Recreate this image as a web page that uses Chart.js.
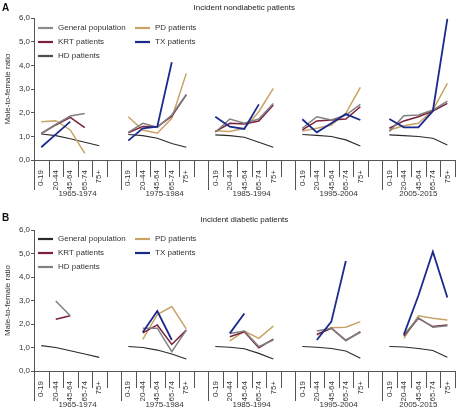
<!DOCTYPE html>
<html>
<head>
<meta charset="utf-8">
<script src="https://cdn.jsdelivr.net/npm/chart.js@4.4.0/dist/chart.umd.min.js"></script>
<style>
  body { margin: 0; background: #fff; }
  canvas { display: block; }
</style>
</head>
<body>
<canvas id="chartA" width="459" height="205"></canvas>
<canvas id="chartB" width="459" height="205"></canvas>
<script>
// categories
const ageGroups = ['0-19', '20-44', '45-64', '65-74', '75+'];
const periods = ['1965-1974', '1975-1984', '1985-1994', '1995-2004', '2005-2015'];
const yTicks = [0, 1, 2, 3, 4, 5, 6];

// Panel A - incident nondiabetic patients (one inner array per period)
const ndGeneral = [[1.1, 1.03, 0.9, 0.75, 0.6], [1.08, 1.03, 0.92, 0.7, 0.54], [1.06, 1.03, 0.96, 0.75, 0.54], [1.08, 1.04, 0.99, 0.85, 0.59], [1.06, 1.03, 0.99, 0.92, 0.63]];
const ndKrt = [[1.12, 1.48, 1.8, 1.37, null], [1.15, 1.42, 1.4, 1.85, 2.75], [1.2, 1.55, 1.52, 1.65, 2.32], [1.27, 1.65, 1.69, 1.73, 2.25], [1.34, 1.65, 1.83, 2.07, 2.39]];
const ndHd = [[1.12, 1.5, 1.86, 1.96, null], [1.17, 1.55, 1.38, 1.9, 2.77], [1.17, 1.73, 1.55, 1.73, 2.39], [1.34, 1.83, 1.69, 1.9, 2.35], [1.2, 1.87, 1.9, 2.11, 2.49]];
const ndPd = [[1.62, 1.66, 1.27, 0.28, null], [1.83, 1.27, 1.13, 1.76, 3.66], [1.24, 1.2, 1.34, 2.04, 3.03], [1.23, 1.34, 1.48, 1.97, 3.07], [1.27, 1.45, 1.55, 2.11, 3.24]];
const ndTx = [[0.54, 1.08, 1.62, null, null], [0.82, 1.34, 1.41, 4.13, null], [1.83, 1.41, 1.31, 2.35, null], [1.72, 1.17, 1.55, 1.94, 1.69], [1.73, 1.38, 1.38, 2.07, 5.96]];

// Panel B - incident diabetic patients
const dGeneral = [[1.08, 1.0, 0.86, 0.72, 0.58], [1.04, 1.0, 0.89, 0.72, 0.51], [1.04, 1.01, 0.95, 0.75, 0.51], [1.04, 1.01, 0.96, 0.85, 0.54], [1.04, 1.02, 0.96, 0.87, 0.58]];
const dKrt = [[null, 2.2, 2.35, null, null], [null, 1.62, 1.96, 1.13, 1.74], [null, 1.46, 1.67, 0.99, 1.36], [null, 1.56, 1.82, 1.29, 1.67], [null, 1.49, 2.24, 1.89, 1.96]];
const dHd = [[null, 2.98, 2.35, null, null], [null, 1.82, 1.82, 0.82, 1.74], [null, 1.6, 1.7, 1.04, 1.32], [null, 1.7, 1.82, 1.32, 1.65], [null, 1.53, 2.27, 1.86, 1.93]];
const dPd = [[null, null, null, null, null], [null, 1.35, 2.4, 2.74, 1.79], [null, 1.28, 1.7, 1.39, 1.91], [null, 1.53, 1.84, 1.86, 2.1], [null, 1.39, 2.35, 2.24, 2.17]];
const dTx = [[null, null, null, null, null], [null, 1.65, 2.55, 1.32, null], [null, 1.6, 2.45, null, null], [null, 1.32, 2.1, 4.68, null], [null, 1.55, 3.2, 5.08, 3.13]];

const FONT = "'Liberation Sans', Arial, Helvetica, sans-serif";
Chart.defaults.font.family = FONT;
Chart.defaults.font.size = 8;
Chart.defaults.color = '#333';

const colors = {
    general: '#2b2b2b',
    krt: '#7b1f3a',
    hd: '#808080',
    pd: '#c9a366',
    tx: '#1b2b8c'
};

// category labels: 5 age groups per period, with an empty slot between periods
let labels = [];
periods.forEach(function (p, i) {
    labels.push(...ageGroups);
    if (i < periods.length - 1) labels.push('');
});

function spread(groups) {
    let out = [];
    groups.forEach(function (g, i) {
        out.push(...g);
        if (i < groups.length - 1) out.push(null);
    });
    return out;
}

// draws panel letter, title, axis separators, period labels and legend
const panelDecor = {
    id: 'panelDecor',
    afterDraw(chart, args, opts) {
        const ctx = chart.ctx;
        const xs = chart.scales.x;
        const area = chart.chartArea;
        ctx.save();

        ctx.fillStyle = '#111';
        ctx.textBaseline = 'middle';
        ctx.textAlign = 'left';
        ctx.font = 'bold 10px ' + FONT;
        ctx.fillText(opts.letter, 2, opts.letterY);
        ctx.font = '8px ' + FONT;
        ctx.fillStyle = '#222';
        ctx.textAlign = 'center';
        ctx.fillText(opts.title, (area.left + area.right) / 2, opts.titleY);

        // separators under the x axis
        const half = (xs.getPixelForValue(1) - xs.getPixelForValue(0)) / 2;
        const n = chart.data.labels.length;
        ctx.strokeStyle = '#555';
        ctx.lineWidth = 1;
        for (let i = 0; i <= n; i++) {
            const px = Math.round(i < n ? xs.getPixelForValue(i) - half : xs.getPixelForValue(n - 1) + half) + 0.5;
            const len = (i % 6 === 0 && i < n) ? 30 : 17;
            ctx.beginPath();
            ctx.moveTo(px, area.bottom);
            ctx.lineTo(px, area.bottom + len);
            ctx.stroke();
        }

        // period labels
        ctx.fillStyle = '#333';
        periods.forEach(function (p, g) {
            const start = xs.getPixelForValue(g * 6) - half;
            const end = g < periods.length - 1 ? xs.getPixelForValue(g * 6 + 6) - half : xs.getPixelForValue(n - 1) + half;
            ctx.fillText(p, (start + end) / 2, area.bottom + 34);
        });

        // legend inside the plot
        ctx.textAlign = 'left';
        opts.legend.forEach(function (item, i) {
            const col = Math.floor(i / 3);
            const row = i % 3;
            const lx = area.left + 4 + col * 97;
            const ly = area.top + opts.legendTop + row * 14;
            ctx.strokeStyle = item.color;
            ctx.lineWidth = 2.2;
            ctx.beginPath();
            ctx.moveTo(lx, ly);
            ctx.lineTo(lx + 15, ly);
            ctx.stroke();
            ctx.fillStyle = '#333';
            ctx.fillText(item.label, lx + 20, ly);
        });
        ctx.restore();
    }
};

function makePanel(canvasId, series, decor, top, xHeight) {
    const datasets = [
        { label: 'TX patients', data: spread(series.tx), borderColor: colors.tx, borderWidth: 1.8 },
        { label: 'HD patients', data: spread(series.hd), borderColor: colors.hd, borderWidth: 1.5 },
        { label: 'KRT patients', data: spread(series.krt), borderColor: colors.krt, borderWidth: 1.5 },
        { label: 'PD patients', data: spread(series.pd), borderColor: colors.pd, borderWidth: 1.5 },
        { label: 'General population', data: spread(series.general), borderColor: colors.general, borderWidth: 1.1 }
    ];
    datasets.forEach(function (d) {
        d.pointRadius = 0;
        d.tension = 0;
        d.fill = false;
        d.spanGaps = false;
    });

    return new Chart(document.getElementById(canvasId), {
        type: 'line',
        data: { labels: labels, datasets: datasets },
        options: {
            responsive: false,
            animation: false,
            layout: { padding: { top: top, right: 2, left: 0, bottom: 0 } },
            plugins: {
                legend: { display: false },
                tooltip: { enabled: false },
                panelDecor: decor
            },
            scales: {
                x: {
                    type: 'category',
                    offset: true,
                    grid: { display: false, offset: true },
                    border: { display: true, color: '#555', width: 1 },
                    ticks: {
                        autoSkip: false,
                        minRotation: 90,
                        maxRotation: 90,
                        padding: 2,
                        color: '#333',
                        font: { size: 8 }
                    },
                    afterFit: function (scale) { scale.height = xHeight; }
                },
                y: {
                    min: yTicks[0],
                    max: yTicks[yTicks.length - 1],
                    grid: { display: true, drawOnChartArea: false, tickLength: 3, color: '#555' },
                    border: { display: true, color: '#555', width: 1 },
                    ticks: {
                        stepSize: 1,
                        padding: 1,
                        color: '#333',
                        callback: function (v) { return v.toFixed(1).replace('.', ','); }
                    },
                    title: {
                        display: true,
                        text: 'Male-to-female ratio',
                        color: '#333',
                        font: { size: 8 },
                        padding: { top: 3, bottom: 0 }
                    },
                    afterFit: function (scale) { scale.width = 34; }
                }
            }
        },
        plugins: [panelDecor]
    });
}

makePanel('chartA',
    { general: ndGeneral, krt: ndKrt, hd: ndHd, pd: ndPd, tx: ndTx },
    {
        letter: 'A', letterY: 8, title: 'Incident nondiabetic patients', titleY: 8, legendTop: 10,
        legend: [
            { label: 'General population', color: '#8c8c8c' },
            { label: 'KRT patients', color: colors.krt },
            { label: 'HD patients', color: '#4d4d4d' },
            { label: 'PD patients', color: colors.pd },
            { label: 'TX patients', color: colors.tx }
        ]
    }, 18, 45);

makePanel('chartB',
    { general: dGeneral, krt: dKrt, hd: dHd, pd: dPd, tx: dTx },
    {
        letter: 'B', letterY: 13, title: 'Incident diabetic patients', titleY: 15, legendTop: 9,
        legend: [
            { label: 'General population', color: colors.general },
            { label: 'KRT patients', color: colors.krt },
            { label: 'HD patients', color: colors.hd },
            { label: 'PD patients', color: colors.pd },
            { label: 'TX patients', color: colors.tx }
        ]
    }, 25, 39);
</script>
</body>
</html>
